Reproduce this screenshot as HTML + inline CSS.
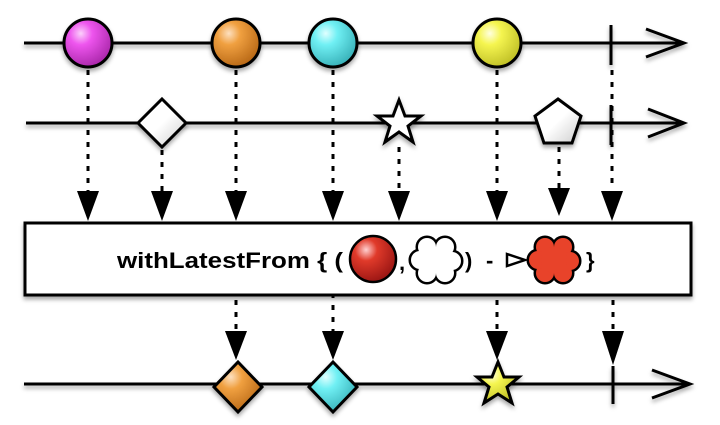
<!DOCTYPE html>
<html><head><meta charset="utf-8"><style>
html,body{margin:0;padding:0;background:#fff;width:720px;height:425px;overflow:hidden}
svg{display:block}
text{font-family:"Liberation Sans",Arial,sans-serif;font-weight:bold}
</style></head><body>
<svg width="720" height="425" viewBox="0 0 720 425" xmlns="http://www.w3.org/2000/svg">
<defs>
<radialGradient id="gm" cx="0.35" cy="0.3" r="0.8"><stop offset="0" stop-color="#fbd0fb"/><stop offset="0.3" stop-color="#ee55ee"/><stop offset="1" stop-color="#a020a0"/></radialGradient>
<radialGradient id="go" cx="0.35" cy="0.3" r="0.8"><stop offset="0" stop-color="#fde0c0"/><stop offset="0.3" stop-color="#f0a040"/><stop offset="1" stop-color="#b06010"/></radialGradient>
<radialGradient id="gc" cx="0.35" cy="0.3" r="0.8"><stop offset="0" stop-color="#e0ffff"/><stop offset="0.3" stop-color="#70f0f4"/><stop offset="1" stop-color="#30a8b0"/></radialGradient>
<radialGradient id="gy" cx="0.35" cy="0.3" r="0.8"><stop offset="0" stop-color="#ffffe0"/><stop offset="0.3" stop-color="#f5f550"/><stop offset="1" stop-color="#b8b820"/></radialGradient>
<radialGradient id="gr" cx="0.35" cy="0.3" r="0.8"><stop offset="0" stop-color="#ffd0d0"/><stop offset="0.3" stop-color="#e03a2a"/><stop offset="1" stop-color="#901010"/></radialGradient>
<linearGradient id="gw" x1="0" y1="0" x2="1" y2="1"><stop offset="0.5" stop-color="#fff"/><stop offset="1" stop-color="#ccc"/></linearGradient>
<filter id="sh" x="-20%" y="-20%" width="140%" height="160%"><feDropShadow dx="0" dy="3" stdDeviation="2" flood-color="#000" flood-opacity="0.35"/></filter>
</defs>
<g stroke="#000" stroke-width="3" fill="none" filter="url(#sh)">
<line x1="24" y1="43" x2="684" y2="43"/>
<polyline points="646,29 684,43 646,57"/>
<line x1="611" y1="25" x2="611" y2="65"/>
<line x1="26" y1="123" x2="684" y2="123"/>
<polyline points="648,109 684,123 648,137"/>
<line x1="611" y1="105" x2="611" y2="145"/>
<line x1="24" y1="384" x2="690" y2="384"/>
<polyline points="652,370 690,384 652,398"/>
<line x1="613" y1="366" x2="613" y2="404"/>
</g>
<g stroke="#000" stroke-width="3" stroke-dasharray="5,7">
<line x1="88" y1="70" x2="88" y2="194"/>
<line x1="162" y1="150" x2="162" y2="194"/>
<line x1="236" y1="70" x2="236" y2="194"/>
<line x1="333" y1="70" x2="333" y2="194"/>
<line x1="399" y1="147" x2="399" y2="194"/>
<line x1="497" y1="70" x2="497" y2="194"/>
<line x1="559" y1="147" x2="559" y2="190"/>
<line x1="612" y1="70" x2="612" y2="190"/>
<line x1="236" y1="300" x2="236" y2="332"/>
<line x1="333" y1="293" x2="333" y2="332"/>
<line x1="497" y1="300" x2="497" y2="332"/>
<line x1="613" y1="300" x2="613" y2="332"/>
</g>
<g fill="#000">
<polygon points="77,191 99,191 88,221"/>
<polygon points="151,191 173,191 162,221"/>
<polygon points="225,191 247,191 236,221"/>
<polygon points="322,191 344,191 333,221"/>
<polygon points="388,191 410,191 399,221"/>
<polygon points="486,191 508,191 497,221"/>
<polygon points="548,188 570,188 559,216"/>
<polygon points="601,191 623,191 612,221"/>
<polygon points="225,331 247,331 236,360"/>
<polygon points="322,331 344,331 333,360"/>
<polygon points="486,331 508,331 497,360"/>
<polygon points="602,331 624,331 613,365"/>
</g>
<g stroke="#000" stroke-width="3" filter="url(#sh)">
<circle cx="88" cy="43" r="24" fill="url(#gm)"/>
<circle cx="236" cy="43" r="24" fill="url(#go)"/>
<circle cx="333" cy="43" r="24" fill="url(#gc)"/>
<circle cx="497" cy="43" r="24" fill="url(#gy)"/>
<polygon points="162,99 186,123 162,147 138,123" fill="url(#gw)"/>
<polygon points="399,100 405,116 421,116 408,126 413,142 399,132 385,142 390,126 377,116 393,116" fill="#fff"/>
<polygon points="558,99 581,116 572,143 544,143 535,116" fill="url(#gw)"/>
<polygon points="238,362 262,387 238,412 214,387" fill="url(#go)"/>
<polygon points="333,362 357,387 333,412 309,387" fill="url(#gc)"/>
<polygon points="498,362 504,377 519,377 507,387 512,403 498,394 484,403 489,387 477,377 492,377" fill="url(#gy)"/>
</g>
<rect x="25" y="223" width="666" height="72" fill="#fff" stroke="#000" stroke-width="3" filter="url(#sh)"/>
<text x="117" y="268" font-size="22" fill="#000" textLength="226" lengthAdjust="spacingAndGlyphs">withLatestFrom { (</text>
<circle cx="373" cy="259" r="23" fill="url(#gr)" stroke="#000" stroke-width="2.5"/>
<text x="399" y="270" font-size="22">,</text>
<g stroke="#000" stroke-width="5">
<circle cx="427" cy="247" r="9"/><circle cx="445" cy="247" r="9"/><circle cx="452" cy="261" r="9"/><circle cx="445" cy="273" r="9"/><circle cx="427" cy="273" r="9"/><circle cx="420" cy="260" r="9"/>
</g>
<g fill="#fff">
<circle cx="427" cy="247" r="9"/><circle cx="445" cy="247" r="9"/><circle cx="452" cy="261" r="9"/><circle cx="445" cy="273" r="9"/><circle cx="427" cy="273" r="9"/><circle cx="420" cy="260" r="9"/><circle cx="436" cy="260" r="13"/>
</g>
<text x="465" y="268" font-size="22">)</text>
<text x="486" y="268" font-size="22">-</text>
<polygon points="507,254 525,260 507,266" fill="#fff" stroke="#000" stroke-width="2.5"/>
<g stroke="#000" stroke-width="5">
<circle cx="545" cy="247" r="9"/><circle cx="563" cy="247" r="9"/><circle cx="570" cy="261" r="9"/><circle cx="563" cy="273" r="9"/><circle cx="545" cy="273" r="9"/><circle cx="538" cy="260" r="9"/>
</g>
<g fill="#e8432a">
<circle cx="545" cy="247" r="9"/><circle cx="563" cy="247" r="9"/><circle cx="570" cy="261" r="9"/><circle cx="563" cy="273" r="9"/><circle cx="545" cy="273" r="9"/><circle cx="538" cy="260" r="9"/><circle cx="554" cy="260" r="13"/>
</g>
<text x="586" y="268" font-size="22">}</text>
</svg>
</body></html>
